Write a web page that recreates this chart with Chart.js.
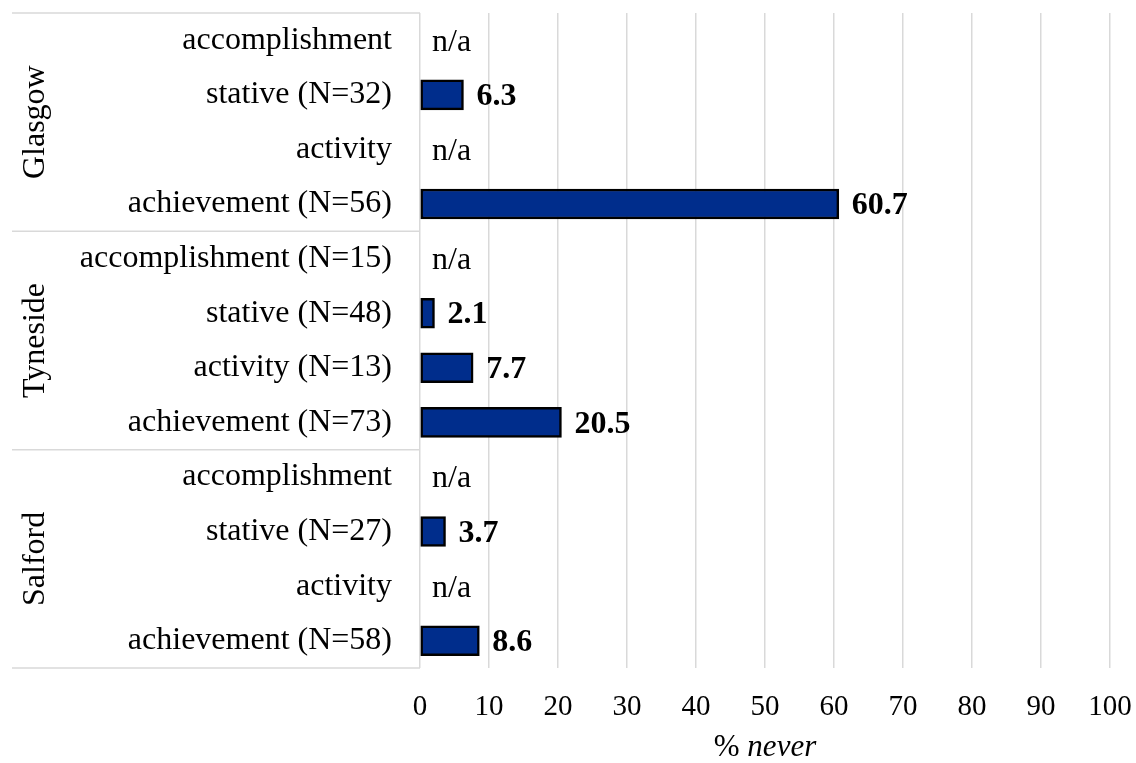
<!DOCTYPE html>
<html>
<head>
<meta charset="utf-8">
<script src="https://cdn.jsdelivr.net/npm/chart.js@4"></script>
<style>
  html, body { margin: 0; padding: 0; background: #ffffff; }
  #wrap { width: 1136px; height: 763px; }
</style>
</head>
<body>
<div id="wrap"><canvas id="grafico" width="1136" height="763"></canvas></div>
<script>
// categories top to bottom, 4 per region
const categorias = [
    'accomplishment', 'stative (N=32)', 'activity', 'achievement (N=56)',
    'accomplishment (N=15)', 'stative (N=48)', 'activity (N=13)', 'achievement (N=73)',
    'accomplishment', 'stative (N=27)', 'activity', 'achievement (N=58)'
];
const valores = [
    null, 6.3, null, 60.7,
    null, 2.1, 7.7, 20.5,
    null, 3.7, null, 8.6
];
const regioes = ['Glasgow', 'Tyneside', 'Salford'];
const porRegiao = 4;
const tituloX = ['% ', 'never'];

const fonte = '"Liberation Serif", "Times New Roman", serif';
const corLinha = '#d9d9d9';

const pluginRegioes = {
    id: 'regioes',
    afterDraw(chart) {
        const c = chart.ctx;
        const y = chart.scales.y;
        const area = chart.chartArea;
        const passo = y.getPixelForValue(1) - y.getPixelForValue(0);

        c.save();
        c.strokeStyle = corLinha;
        c.lineWidth = 1.5;
        for (let g = 0; g <= regioes.length; g++) {
            const py = y.getPixelForValue(g * porRegiao) - passo / 2;
            c.beginPath();
            c.moveTo(12, py);
            c.lineTo(area.left, py);
            c.stroke();
        }

        c.fillStyle = '#000';
        c.font = '32px ' + fonte;
        c.textAlign = 'center';
        c.textBaseline = 'middle';
        regioes.forEach((nome, g) => {
            const y0 = y.getPixelForValue(g * porRegiao) - passo / 2;
            const y1 = y.getPixelForValue((g + 1) * porRegiao - 1) + passo / 2;
            c.save();
            c.translate(36, (y0 + y1) / 2);
            c.rotate(-Math.PI / 2);
            c.fillText(nome, 0, 0);
            c.restore();
        });

        // value labels
        const meta = chart.getDatasetMeta(0);
        c.textAlign = 'left';
        meta.data.forEach((bar, i) => {
            const v = valores[i];
            const py = y.getPixelForValue(i) + 2;
            if (v === null) {
                c.font = '32px ' + fonte;
                c.fillText('n/a', area.left + 12, py);
            } else {
                c.font = 'bold 32px ' + fonte;
                c.fillText(v.toFixed(1), bar.x + 13, py);
            }
        });

        // axis title with italic word
        c.font = '31px ' + fonte;
        const w1 = c.measureText(tituloX[0]).width;
        c.font = 'italic 31px ' + fonte;
        const w2 = c.measureText(tituloX[1]).width;
        const x0 = (area.left + area.right) / 2 - (w1 + w2) / 2;
        c.font = '31px ' + fonte;
        c.fillText(tituloX[0], x0, 748);
        c.font = 'italic 31px ' + fonte;
        c.fillText(tituloX[1], x0 + w1, 748);
        c.restore();
    }
};

const ctx = document.getElementById('grafico').getContext('2d');

new Chart(ctx, {
    type: 'bar',
    data: {
        labels: categorias,
        datasets: [{
            data: valores,
            backgroundColor: '#002d8c',
            borderColor: '#000000',
            borderWidth: 2.5,
            borderSkipped: false,
            barThickness: 30
        }]
    },
    options: {
        indexAxis: 'y',
        responsive: false,
        animation: false,
        layout: { padding: { top: 13, right: 26, bottom: 0, left: 0 } },
        plugins: {
            legend: { display: false },
            tooltip: { enabled: false }
        },
        scales: {
            x: {
                min: 0,
                max: 100,
                ticks: {
                    stepSize: 10,
                    color: '#000',
                    padding: 22,
                    font: { family: fonte, size: 29 }
                },
                grid: { color: corLinha, lineWidth: 1.5, drawTicks: false },
                border: { display: false },
                afterFit(scale) {
                    scale.height = 95;
                    scale.paddingLeft = 0;
                    scale.paddingRight = 0;
                }
            },
            y: {
                ticks: {
                    color: '#000',
                    padding: 28,
                    font: { family: fonte, size: 32 }
                },
                grid: { display: false, drawTicks: false },
                border: { display: false },
                afterFit(scale) {
                    scale.width = 420;
                    scale.paddingTop = 0;
                    scale.paddingBottom = 0;
                }
            }
        }
    },
    plugins: [pluginRegioes]
});
</script>
</body>
</html>
